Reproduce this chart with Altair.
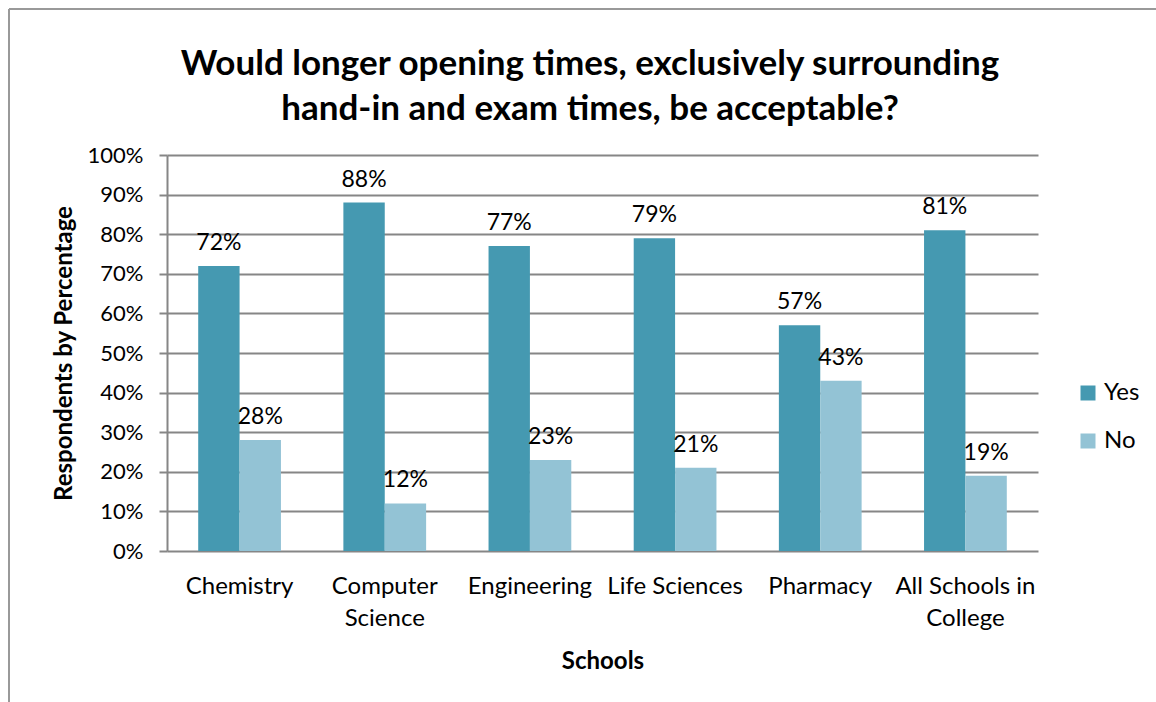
import altair as alt
import pandas as pd

schools = ["Chemistry", "Computer Science", "Engineering", "Life Sciences", "Pharmacy", "All Schools in College"]
yes_vals = [0.72, 0.88, 0.77, 0.79, 0.57, 0.81]
no_vals = [0.28, 0.12, 0.23, 0.21, 0.43, 0.19]
answers = ["Yes", "No"]
colors = ["#4599B1", "#93C3D5"]
y_ticks = [i / 10 for i in range(11)]
title_lines = ["Would longer opening times, exclusively surrounding", "hand-in and exam times, be acceptable?"]

rows = []
for s, y, n in zip(schools, yes_vals, no_vals):
    rows.append({"School": s, "Answer": "Yes", "Value": y})
    rows.append({"School": s, "Answer": "No", "Value": n})
df = pd.DataFrame(rows)

FONT = "Lato"
GRID = "#868686"

label_expr = ("datum.value == 'Computer Science' ? ['Computer', 'Science'] : "
              "datum.value == 'All Schools in College' ? ['All Schools in', 'College'] : datum.value")

x_enc = alt.X("School:N", sort=schools,
              scale=alt.Scale(paddingInner=0.43, paddingOuter=0.215),
              axis=alt.Axis(title="Schools", labelAngle=0, labelExpr=label_expr,
                            labelFontSize=24, labelLineHeight=32, labelPadding=23,
                            ticks=False, domain=False, grid=False,
                            titleFontSize=24, titleFontWeight="bold", titlePadding=19,
                            labelColor="#000", titleColor="#000", labelFont=FONT, titleFont=FONT))
y_enc = alt.Y("Value:Q", scale=alt.Scale(domain=[0, 1]),
              axis=alt.Axis(title="Respondents by Percentage", values=y_ticks, format=".0%",
                            labelOverlap=False,
                            labelFontSize=22, labelPadding=16, tickSize=8, tickColor=GRID,
                            tickWidth=2, grid=True, gridColor=GRID, gridWidth=2,
                            domain=True, domainColor=GRID, domainWidth=2,
                            titleFontSize=24, titleFontWeight="bold", titlePadding=11,
                            labelColor="#000", titleColor="#000", labelFont=FONT, titleFont=FONT))

base = alt.Chart(df)

bars = base.mark_bar().encode(
    x=x_enc,
    xOffset=alt.XOffset("Answer:N", sort=answers, scale=alt.Scale(paddingInner=0, paddingOuter=0)),
    y=y_enc,
    color=alt.Color("Answer:N", sort=answers,
                    scale=alt.Scale(domain=answers, range=colors),
                    legend=alt.Legend(title=None, orient="none", legendX=909, legendY=226,
                                      symbolType="square", symbolSize=225, symbolStrokeWidth=0,
                                      labelFontSize=24, labelFont=FONT, labelColor="#000",
                                      rowPadding=24, labelOffset=4)),
)

labels = base.mark_text(baseline="bottom", dy=-11, fontSize=23, font=FONT, color="#000").encode(
    x=x_enc,
    xOffset=alt.XOffset("Answer:N", sort=answers),
    y=y_enc,
    text=alt.Text("Value:Q", format=".0%"),
)

one = alt.Data(values=[{"k": 1}])
title_mark = alt.Chart(one).mark_text(
    fontSize=35, fontWeight="bold", font=FONT, color="#000", lineHeight=45,
    align="center", baseline="middle").encode(
    x=alt.value(423), y=alt.value(-91), text=alt.value(title_lines))
border_left = alt.Chart(one).mark_rule(color="#999999", strokeWidth=2).encode(
    x=alt.value(-158), y=alt.value(-146), y2=alt.value(600))
border_top = alt.Chart(one).mark_rule(color="#999999", strokeWidth=2).encode(
    x=alt.value(-158), x2=alt.value(1000), y=alt.value(-146))

chart = alt.layer(bars, labels, title_mark, border_left, border_top).properties(
    width=871, height=396,
    background="white",
    autosize=alt.AutoSizeParams(type="none"),
    padding={"left": 167, "top": 155, "right": 118, "bottom": 151},
).configure_view(stroke=None, strokeWidth=0)

chart.save("out.html", embed_options={"renderer": "svg", "actions": False})
